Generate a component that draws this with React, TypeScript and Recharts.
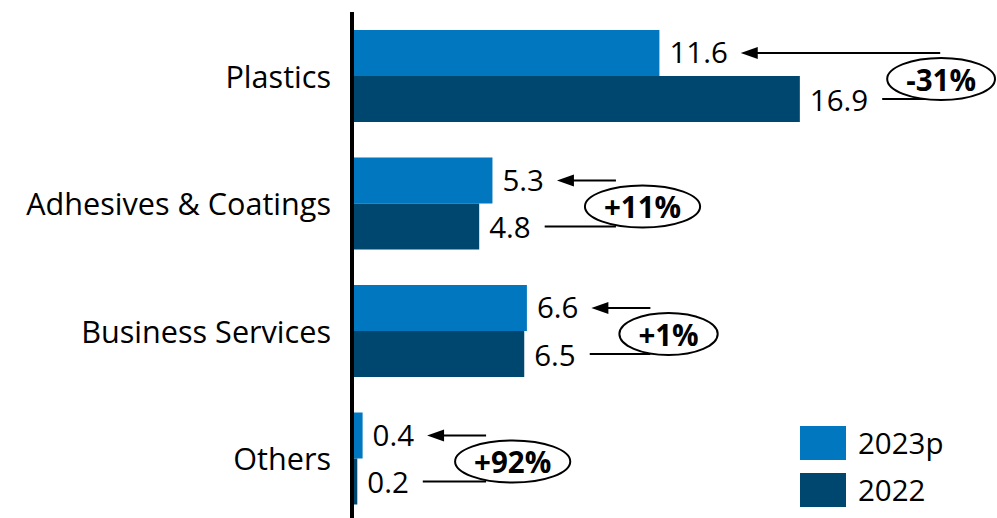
import { BarChart, Bar, XAxis, YAxis, LabelList } from "recharts";

const categories = ["Plastics", "Adhesives & Coatings", "Business Services", "Others"];
const values2023p = [11.6, 5.3, 6.6, 0.4];
const values2022 = [16.9, 4.8, 6.5, 0.2];
const changeLabels = ["-31%", "+11%", "+1%", "+92%"];
const seriesNames = ["2023p", "2022"];

const data = categories.map((name, i) => ({
  name,
  v2023p: values2023p[i],
  v2022: values2022[i],
}));

const FONT = "'Open Sans', 'Noto Sans', sans-serif";
const LIGHT = "#0077BE";
const DARK = "#00476F";
const VALUE_SIZE = 29.5;
const CAT_SIZE = 30.6;
const CHART_W = 997;

let ctx: CanvasRenderingContext2D | null = null;
function textWidth(s: string, size: number, weight = "normal") {
  if (!ctx) ctx = document.createElement("canvas").getContext("2d");
  if (!ctx) return s.length * size * 0.55;
  ctx.font = `${weight} ${size}px 'Open Sans'`;
  return ctx.measureText(s).width;
}

// kategorie-label links von der achse
function CategoryTick(props: any) {
  const { x, y, payload } = props;
  return (
    <text
      x={x - 13}
      y={y}
      textAnchor="end"
      dominantBaseline="central"
      fontSize={CAT_SIZE}
      fontFamily={FONT}
      fill="#000"
    >
      {payload.value}
    </text>
  );
}

// pfeil + ellipse mit veraenderung, haengt am 2022-balken
function ChangeAnnotation(props: any) {
  const vb = props.viewBox ?? props;
  const { x, y, width, height } = vb;
  const i = props.index;
  const v22 = values2022[i];
  const v23 = values2023p[i];
  const k = width / v22;
  const y22 = y + height / 2;
  const y23 = y22 - height;
  const end22 = x + width;
  const end23 = x + v23 * k;
  const lab22End = end22 + 10 + textWidth(v22.toFixed(1), VALUE_SIZE);
  const lab23End = end23 + 10 + textWidth(v23.toFixed(1), VALUE_SIZE);
  const tip = lab23End + 13;
  const start22 = lab22End + 14;
  const conn = Math.max(lab22End, lab23End) + 72;
  const label = changeLabels[i];
  const rx = textWidth(label, VALUE_SIZE, "bold") / 2 + 19;
  const ry = 21;
  const cx = Math.min(conn - 31 + rx, CHART_W - rx - 2);
  const cy = (y22 + y23) / 2 + 3;
  return (
    <g>
      <text
        x={end22 + 10}
        y={y22}
        dominantBaseline="central"
        fontSize={VALUE_SIZE}
        fontFamily={FONT}
        fill="#000"
      >
        {v22.toFixed(1)}
      </text>
      <line x1={tip + 12} y1={y23} x2={conn} y2={y23} stroke="#000" strokeWidth={2} />
      <polygon points={`${tip},${y23} ${tip + 17},${y23 - 6} ${tip + 17},${y23 + 6}`} fill="#000" />
      <line x1={start22} y1={y22} x2={conn} y2={y22} stroke="#000" strokeWidth={2} />
      <ellipse cx={cx} cy={cy} rx={rx} ry={ry} fill="#fff" stroke="#000" strokeWidth={2} />
      <text
        x={cx}
        y={cy}
        textAnchor="middle"
        dominantBaseline="central"
        fontSize={VALUE_SIZE}
        fontWeight="bold"
        fontFamily={FONT}
        fill="#000"
      >
        {label}
      </text>
    </g>
  );
}

export default function App() {
  return (
    <div
      style={{
        position: "absolute",
        left: 0,
        top: 0,
        width: CHART_W,
        height: 518,
        overflow: "hidden",
        background: "#fff",
        fontFamily: FONT,
      }}
    >
      <BarChart
        width={CHART_W}
        height={530}
        data={data}
        layout="vertical"
        margin={{ top: 12, right: 9, bottom: 8, left: 0 }}
        barSize={46}
        barGap={0}
      >
        <XAxis type="number" domain={[0, 24]} hide />
        <YAxis
          type="category"
          dataKey="name"
          width={352}
          axisLine={{ stroke: "#000", strokeWidth: 4 }}
          tickLine={false}
          tick={<CategoryTick />}
        />
        <Bar dataKey="v2023p" name={seriesNames[0]} fill={LIGHT} isAnimationActive={false}>
          <LabelList
            dataKey="v2023p"
            position="right"
            offset={10}
            fontSize={VALUE_SIZE}
            fontFamily={FONT}
            fill="#000"
            formatter={(v: any) => Number(v).toFixed(1)}
          />
        </Bar>
        <Bar dataKey="v2022" name={seriesNames[1]} fill={DARK} isAnimationActive={false}>
          <LabelList dataKey="v2022" content={<ChangeAnnotation />} />
        </Bar>
      </BarChart>
      <div style={{ position: "absolute", left: 800, top: 426 }}>
        {[LIGHT, DARK].map((c, i) => (
          <div key={seriesNames[i]} style={{ display: "flex", alignItems: "center", height: 34, marginBottom: 13 }}>
            <div style={{ width: 46, height: 34, background: c }} />
            <span style={{ marginLeft: 12, fontSize: VALUE_SIZE, color: "#000", lineHeight: "34px" }}>
              {seriesNames[i]}
            </span>
          </div>
        ))}
      </div>
    </div>
  );
}
